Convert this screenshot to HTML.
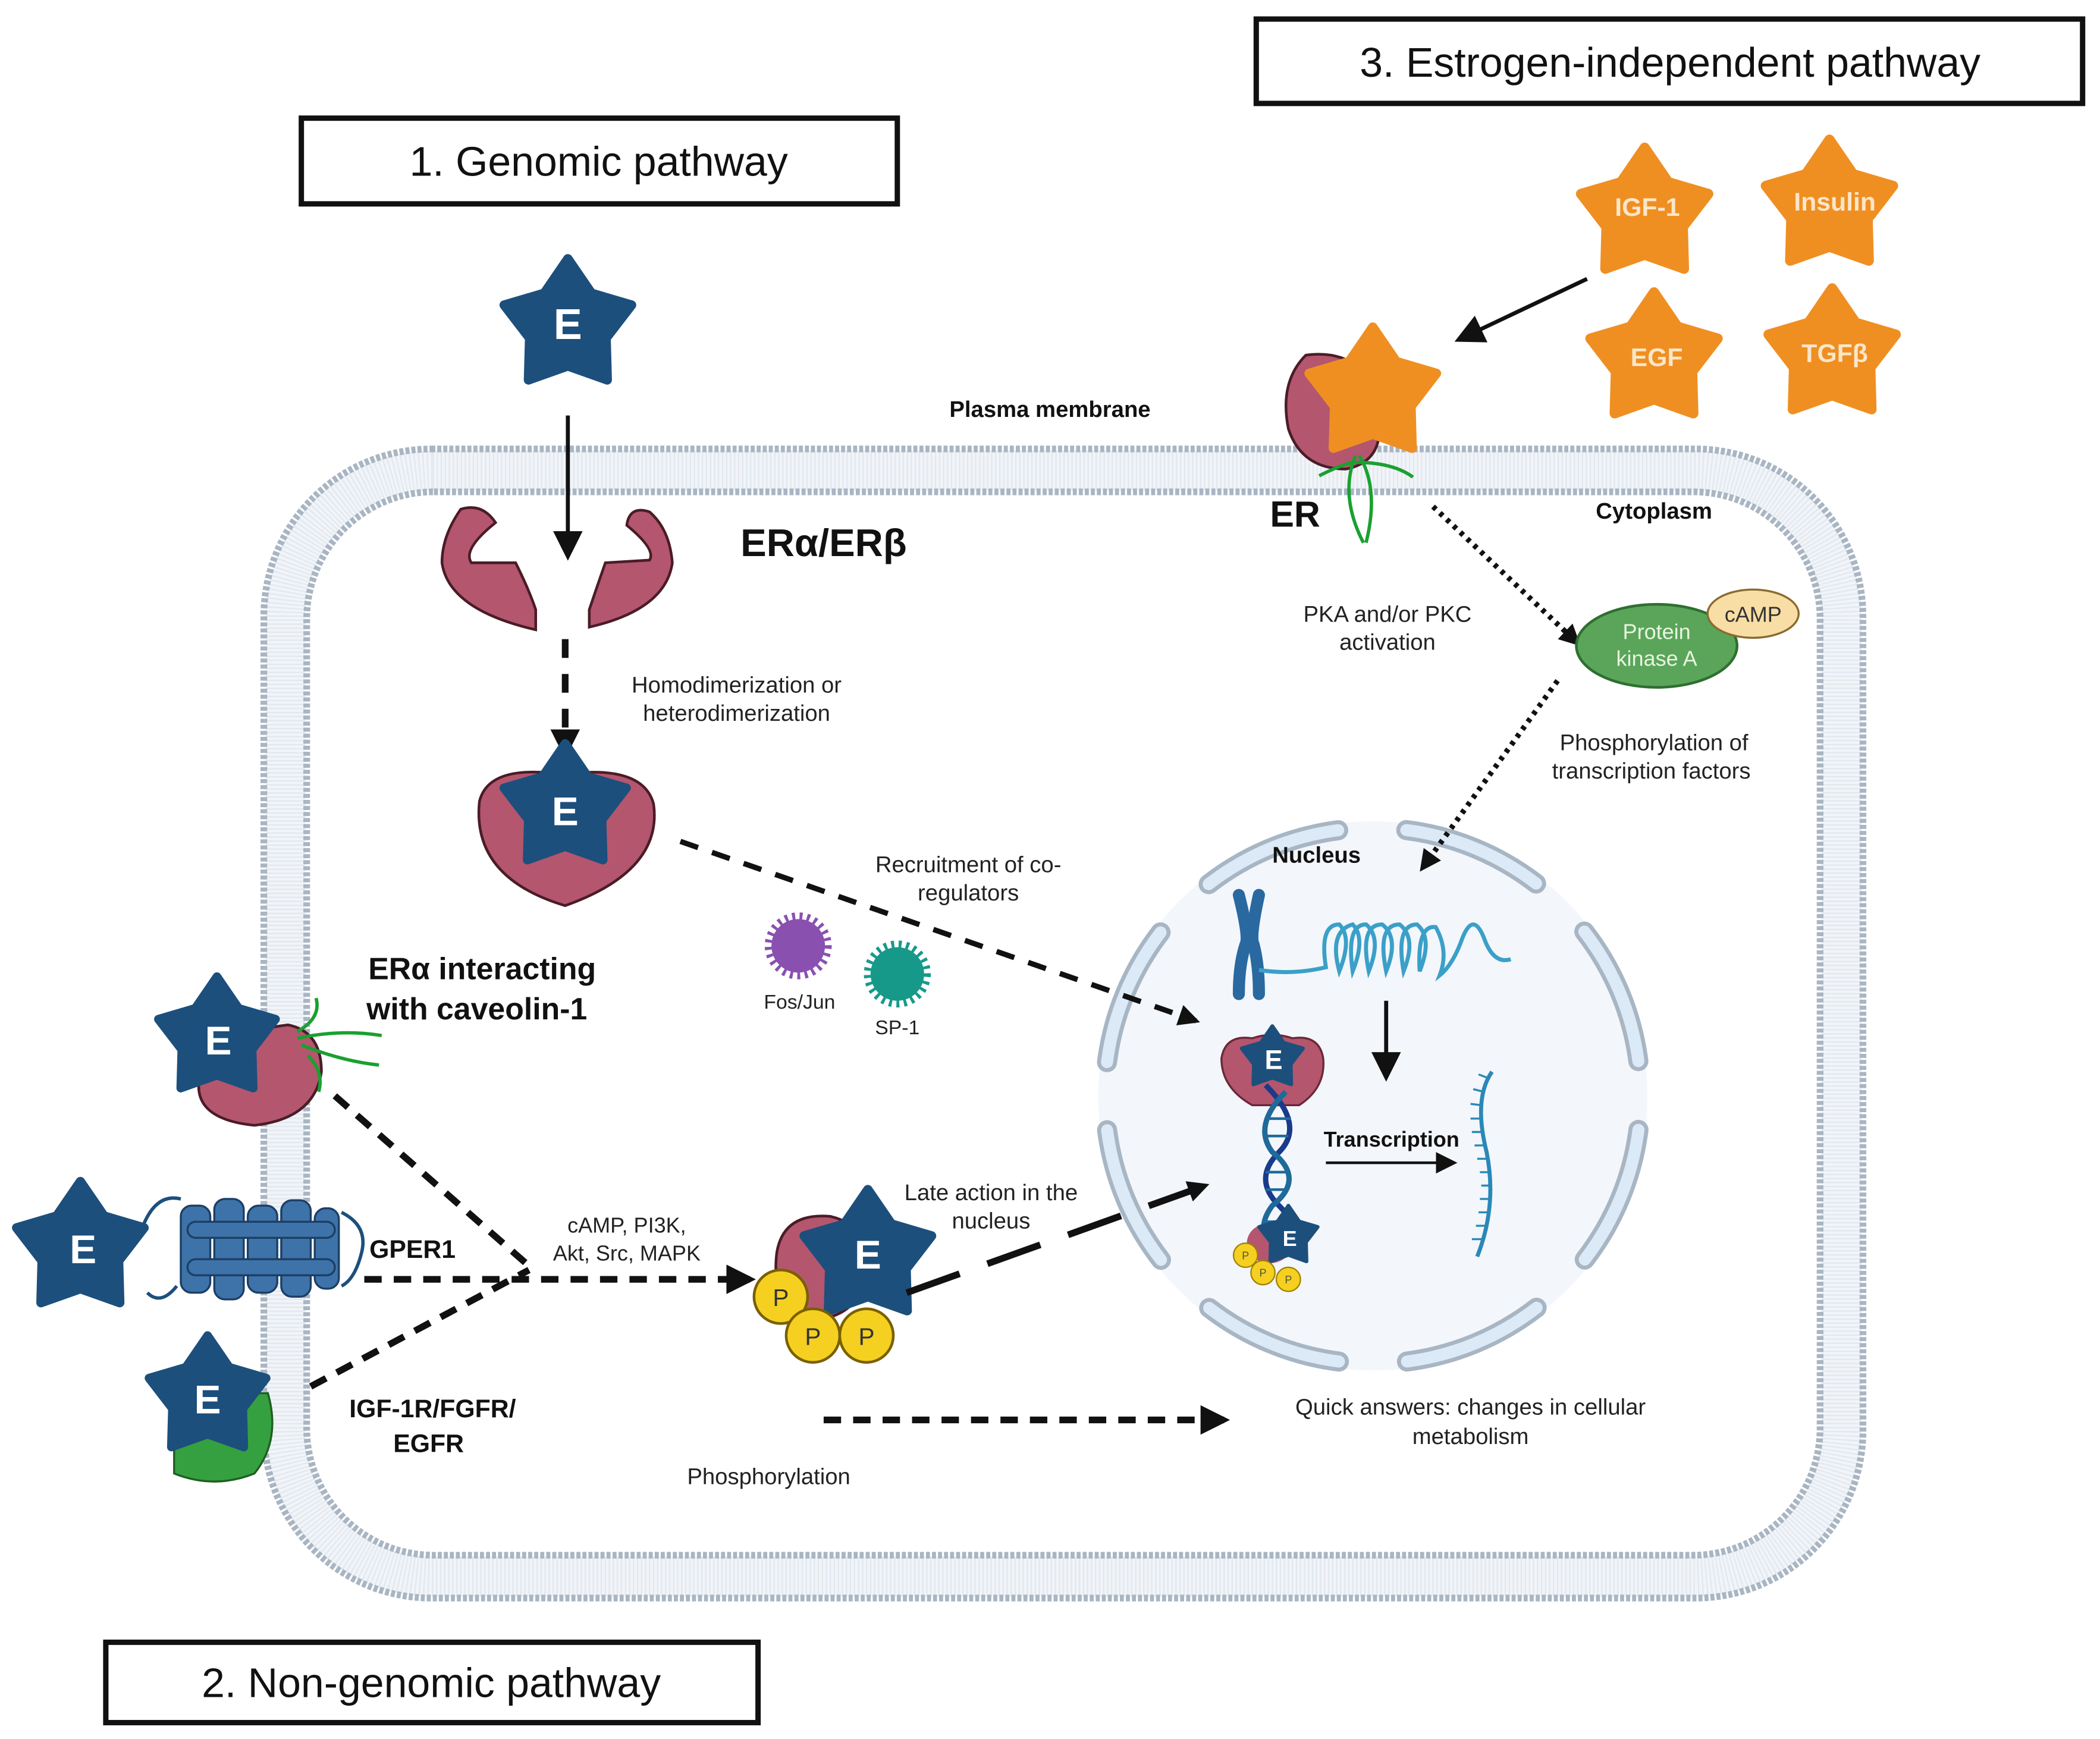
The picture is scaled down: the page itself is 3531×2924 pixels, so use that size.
<!DOCTYPE html>
<html><head><meta charset="utf-8"><style>
html,body{margin:0;padding:0;background:#fff}
svg{display:block}
text{font-family:"Liberation Sans",sans-serif}
</style></head><body>
<svg width="3531" height="2924" viewBox="0 0 1568 1298" xmlns="http://www.w3.org/2000/svg">
<defs>
<path id="star" d="M0,-1 L0.353,-0.485 L0.951,-0.309 L0.571,0.185 L0.588,0.809 L0,0.6 L-0.588,0.809 L-0.571,0.185 L-0.951,-0.309 L-0.353,-0.485 Z"/>
<marker id="ah" viewBox="0 0 10 10" refX="8" refY="5" markerUnits="userSpaceOnUse" markerWidth="18" markerHeight="16" orient="auto"><path d="M0,0 L10,5 L0,10 Z" fill="#111"/></marker>
<marker id="ah2" viewBox="0 0 10 10" refX="8" refY="5" markerUnits="userSpaceOnUse" markerWidth="24" markerHeight="22" orient="auto"><path d="M0,0 L10,5 L0,10 Z" fill="#111"/></marker>
</defs>
<rect width="1568" height="1298" fill="#fff"/>

<!-- membrane -->
<rect x="213" y="351" width="1162" height="826" rx="110" fill="none" stroke="#f1f4f8" stroke-width="30"/>
<rect x="213" y="351" width="1162" height="826" rx="110" fill="none" stroke="#e2e8ef" stroke-width="30" stroke-dasharray="1 2"/>
<rect x="197" y="335" width="1194" height="858" rx="125" fill="none" stroke="#a9b5c2" stroke-width="5" stroke-dasharray="3 1.5"/>
<rect x="229" y="367" width="1130" height="794" rx="95" fill="none" stroke="#a9b5c2" stroke-width="5" stroke-dasharray="3 1.5"/>

<!-- title boxes -->
<rect x="225" y="88" width="445" height="64" fill="#fff" stroke="#111" stroke-width="4"/>
<text x="447" y="131" font-size="31" text-anchor="middle" fill="#111">1. Genomic pathway</text>
<rect x="938" y="14" width="617" height="63" fill="#fff" stroke="#111" stroke-width="4"/>
<text x="1247" y="57" font-size="31" text-anchor="middle" fill="#111">3. Estrogen-independent pathway</text>
<rect x="79" y="1226" width="487" height="60" fill="#fff" stroke="#111" stroke-width="4"/>
<text x="322" y="1267" font-size="31" text-anchor="middle" fill="#111">2. Non-genomic pathway</text>

<!-- nucleus -->
<circle cx="1025" cy="818" r="205" fill="#f3f6fb"/>
<circle cx="1025" cy="818" r="200" fill="none" stroke="#a8b6c4" stroke-width="15" stroke-linecap="round" stroke-dasharray="106 51" stroke-dashoffset="131.5"/>
<circle cx="1025" cy="818" r="200" fill="none" stroke="#dce9f6" stroke-width="9" stroke-linecap="round" stroke-dasharray="106 51" stroke-dashoffset="131.5"/>
<text x="983" y="644" font-size="17" font-weight="bold" text-anchor="middle" fill="#111">Nucleus</text>

<!-- chromosome -->
<path d="M925,668 Q933,700 930,705 Q925,720 925,742 M940,668 Q933,700 936,705 Q940,720 940,742" stroke="#2a68a0" stroke-width="9" fill="none" stroke-linecap="round"/>
<path d="M940,724 Q965,728 990,722 Q985,690 1000,690 Q1010,700 1000,725 Q992,695 1010,690 Q1020,700 1010,725 Q1005,690 1020,690 Q1032,700 1022,725 Q1015,690 1032,690 Q1045,700 1035,725 Q1028,690 1045,690 Q1058,700 1048,725 Q1042,690 1058,690 Q1070,700 1060,725 Q1058,690 1072,692 Q1082,710 1075,728 Q1085,720 1092,700 Q1100,680 1108,700 Q1115,720 1128,716" stroke="#3aa0c8" stroke-width="3" fill="none"/>
<line x1="1035" y1="747" x2="1035" y2="803" stroke="#111" stroke-width="3" marker-end="url(#ah2)"/>

<!-- DNA complex -->
<path d="M912,790 Q915,772 935,775 Q950,770 965,775 Q985,772 988,790 Q990,812 970,825 L935,825 Q912,812 912,790Z" fill="#b4566e" stroke="#6a2838" stroke-width="1.5"/>
<use href="#star" transform="translate(950,790) scale(24)" fill="#1c4f7c" stroke="#1c4f7c" stroke-width="0.12" stroke-linejoin="round"/>
<text x="951" y="798" font-size="20" font-weight="bold" text-anchor="middle" fill="#fff">E</text>
<path d="M945,810 Q975,840 955,860 Q935,880 955,900 Q975,920 960,935" stroke="#1a3a8a" stroke-width="4" fill="none"/>
<path d="M960,815 Q935,840 950,860 Q975,880 950,900 Q935,920 955,935" stroke="#1e6a9a" stroke-width="4" fill="none"/>
<g stroke="#1e6a9a" stroke-width="2"><line x1="948" y1="835" x2="964" y2="835"/><line x1="944" y1="848" x2="962" y2="848"/><line x1="945" y1="875" x2="962" y2="875"/><line x1="945" y1="888" x2="962" y2="888"/><line x1="946" y1="912" x2="962" y2="912"/></g>
<ellipse cx="948" cy="928" rx="17" ry="15" fill="#b4566e"/>
<use href="#star" transform="translate(962,923) scale(23)" fill="#1c4f7c" stroke="#1c4f7c" stroke-width="0.12" stroke-linejoin="round"/>
<text x="963" y="930" font-size="16" font-weight="bold" text-anchor="middle" fill="#fff">E</text>
<g fill="#f5d020" stroke="#a08000" stroke-width="1"><circle cx="930" cy="937" r="9"/><circle cx="943" cy="950" r="9"/><circle cx="962" cy="955" r="9"/></g>
<g font-size="8" text-anchor="middle" fill="#553"><text x="930" y="940">P</text><text x="943" y="953">P</text><text x="962" y="958">P</text></g>

<text x="1039" y="856" font-size="16" font-weight="bold" text-anchor="middle" fill="#111">Transcription</text>
<line x1="990" y1="868" x2="1085" y2="868" stroke="#111" stroke-width="2" marker-end="url(#ah)"/>
<!-- mRNA -->
<path d="M1114,800 Q1100,820 1110,860 Q1118,900 1103,938" stroke="#2a88b8" stroke-width="3" fill="none"/>
<path d="M1112,805 l-8,-3 M1108,815 l-8,-2 M1106,825 l-8,-1 M1106,835 l-8,0 M1107,845 l-8,0 M1109,855 l-8,0 M1111,865 l-8,0 M1113,875 l-8,0 M1114,885 l-8,0 M1113,895 l-8,0 M1112,905 l-8,0 M1110,915 l-8,0 M1107,925 l-8,0" stroke="#2a88b8" stroke-width="1.5"/>

<!-- genomic pathway -->
<use href="#star" transform="translate(424,243) scale(50)" fill="#1c4f7c" stroke="#1c4f7c" stroke-width="0.14" stroke-linejoin="round"/>
<text x="424" y="253" font-size="32" font-weight="bold" text-anchor="middle" fill="#fff">E</text>
<line x1="424" y1="310" x2="424" y2="414" stroke="#111" stroke-width="3" marker-end="url(#ah2)"/>
<path d="M344,380 Q330,400 330,420 Q335,455 400,470 L400,455 Q395,440 385,420 L352,420 Q345,410 370,390 Q360,375 344,380Z" fill="#b4566e" stroke="#4a1c28" stroke-width="2"/>
<path d="M485,382 Q500,395 502,420 Q497,455 440,468 L440,455 Q445,440 452,420 L485,418 Q490,410 468,392 Q470,377 485,382Z" fill="#b4566e" stroke="#4a1c28" stroke-width="2"/>
<text x="615" y="415" font-size="29" font-weight="bold" text-anchor="middle" fill="#111">ERα/ERβ</text>
<line x1="422" y1="477" x2="422" y2="562" stroke="#111" stroke-width="5" stroke-dasharray="14 12" marker-end="url(#ah2)"/>
<text x="550" y="517" font-size="17" text-anchor="middle" fill="#222">Homodimerization or</text>
<text x="550" y="538" font-size="17" text-anchor="middle" fill="#222">heterodimerization</text>
<path d="M358,598 Q365,570 420,578 Q480,570 488,600 Q495,650 422,676 Q352,655 358,598Z" fill="#b4566e" stroke="#4a1c28" stroke-width="2"/>
<use href="#star" transform="translate(422,603) scale(48)" fill="#1c4f7c" stroke="#1c4f7c" stroke-width="0.14" stroke-linejoin="round"/>
<text x="422" y="616" font-size="30" font-weight="bold" text-anchor="middle" fill="#fff">E</text>

<line x1="508" y1="628" x2="893" y2="762" stroke="#111" stroke-width="4" stroke-dasharray="14 11" marker-end="url(#ah)"/>
<text x="723" y="651" font-size="17" text-anchor="middle" fill="#222">Recruitment of co-</text>
<text x="723" y="672" font-size="17" text-anchor="middle" fill="#222">regulators</text>
<circle cx="596" cy="706" r="20" fill="#8a50b0" stroke="#8a50b0" stroke-width="10" stroke-dasharray="2 3"/>
<circle cx="670" cy="727" r="20" fill="#17998a" stroke="#17998a" stroke-width="10" stroke-dasharray="2 3"/>
<text x="597" y="753" font-size="15" text-anchor="middle" fill="#222">Fos/Jun</text>
<text x="670" y="772" font-size="15" text-anchor="middle" fill="#222">SP-1</text>

<!-- estrogen independent -->
<g fill="#ef8f22" stroke="#ef8f22" stroke-width="0.15" stroke-linejoin="round">
<use href="#star" transform="translate(1228,160) scale(50)"/>
<use href="#star" transform="translate(1366,154) scale(50)"/>
<use href="#star" transform="translate(1235,268) scale(50)"/>
<use href="#star" transform="translate(1368,265) scale(50)"/>
</g>
<g font-size="19" font-weight="bold" text-anchor="middle" fill="#fde6c8">
<text x="1230" y="161">IGF-1</text><text x="1370" y="157">Insulin</text><text x="1237" y="273">EGF</text><text x="1370" y="270">TGFβ</text></g>
<line x1="1185" y1="208" x2="1090" y2="253" stroke="#111" stroke-width="3" marker-end="url(#ah2)"/>
<path d="M975,265 Q955,285 962,320 Q972,350 1005,350 Q1030,345 1030,320 L1030,290 Q1010,260 975,265Z" fill="#b4566e" stroke="#4a1c28" stroke-width="2"/>
<use href="#star" transform="translate(1025,294) scale(50)" fill="#ef8f22" stroke="#ef8f22" stroke-width="0.14" stroke-linejoin="round"/>
<path d="M1015,340 Q1030,365 1020,405 M1012,340 Q1000,370 1018,405 M985,355 Q1005,345 1012,345 M1012,345 Q1040,345 1055,356" stroke="#1aa030" stroke-width="2.5" fill="none"/>
<text x="967" y="393" font-size="27" font-weight="bold" text-anchor="middle" fill="#111">ER</text>
<text x="784" y="311" font-size="17" font-weight="bold" text-anchor="middle" fill="#111">Plasma membrane</text>
<text x="1235" y="387" font-size="17" font-weight="bold" text-anchor="middle" fill="#111">Cytoplasm</text>
<line x1="1070" y1="378" x2="1178" y2="480" stroke="#111" stroke-width="4" stroke-dasharray="3 4" marker-end="url(#ah)"/>
<text x="1036" y="464" font-size="17" text-anchor="middle" fill="#222">PKA and/or PKC</text>
<text x="1036" y="485" font-size="17" text-anchor="middle" fill="#222">activation</text>
<ellipse cx="1237" cy="482" rx="60" ry="31" fill="#5aa55a" stroke="#2f6f30" stroke-width="2"/>
<text x="1237" y="477" font-size="16" text-anchor="middle" fill="#e8f5e0">Protein</text>
<text x="1237" y="497" font-size="16" text-anchor="middle" fill="#e8f5e0">kinase A</text>
<ellipse cx="1309" cy="458" rx="34" ry="18" fill="#f8dea4" stroke="#8a6a30" stroke-width="1.5"/>
<text x="1309" y="464" font-size="16" text-anchor="middle" fill="#333">cAMP</text>
<line x1="1163" y1="508" x2="1062" y2="648" stroke="#111" stroke-width="4" stroke-dasharray="3 4" marker-end="url(#ah)"/>
<text x="1235" y="560" font-size="17" text-anchor="middle" fill="#222">Phosphorylation of</text>
<text x="1233" y="581" font-size="17" text-anchor="middle" fill="#222">transcription factors</text>

<!-- non-genomic -->
<text x="360" y="731" font-size="23" font-weight="bold" text-anchor="middle" fill="#111">ERα interacting</text>
<text x="356" y="761" font-size="23" font-weight="bold" text-anchor="middle" fill="#111">with caveolin-1</text>
<path d="M150,800 Q170,770 215,765 Q240,770 240,800 Q235,835 190,840 Q140,835 150,800Z" fill="#b4566e" stroke="#4a1c28" stroke-width="2"/>
<use href="#star" transform="translate(162,775) scale(46)" fill="#1c4f7c" stroke="#1c4f7c" stroke-width="0.14" stroke-linejoin="round"/>
<text x="163" y="787" font-size="30" font-weight="bold" text-anchor="middle" fill="#fff">E</text>
<path d="M222,770 Q240,760 236,745 M222,775 Q255,768 285,773 M225,780 Q255,792 283,795 M230,788 Q242,800 238,815" stroke="#1aa030" stroke-width="2.5" fill="none"/>

<use href="#star" transform="translate(60,932) scale(50)" fill="#1c4f7c" stroke="#1c4f7c" stroke-width="0.14" stroke-linejoin="round"/>
<text x="62" y="943" font-size="30" font-weight="bold" text-anchor="middle" fill="#fff">E</text>
<path d="M105,920 Q115,890 135,895 M255,905 Q275,915 270,935 Q265,955 255,960 M132,960 Q120,975 110,965" stroke="#1c4f7c" stroke-width="2.5" fill="none"/>
<g fill="#3d73a8" stroke="#1c3f66" stroke-width="1.5">
<rect x="135" y="900" width="22" height="65" rx="8"/><rect x="160" y="895" width="22" height="75" rx="8"/><rect x="185" y="900" width="22" height="65" rx="8"/><rect x="210" y="896" width="22" height="72" rx="8"/><rect x="235" y="902" width="18" height="60" rx="8"/>
<rect x="140" y="912" width="110" height="12" rx="6"/><rect x="140" y="940" width="110" height="12" rx="6"/></g>
<text x="308" y="939" font-size="19" font-weight="bold" text-anchor="middle" fill="#111">GPER1</text>

<path d="M130,1070 Q150,1040 200,1040 Q210,1075 190,1100 Q160,1112 130,1100 Z" fill="#35a040" stroke="#1d5f20" stroke-width="1.5"/>
<use href="#star" transform="translate(155,1043) scale(46)" fill="#1c4f7c" stroke="#1c4f7c" stroke-width="0.14" stroke-linejoin="round"/>
<text x="155" y="1055" font-size="30" font-weight="bold" text-anchor="middle" fill="#fff">E</text>
<text x="323" y="1058" font-size="19" font-weight="bold" text-anchor="middle" fill="#111">IGF-1R/FGFR/</text>
<text x="320" y="1084" font-size="19" font-weight="bold" text-anchor="middle" fill="#111">EGFR</text>

<line x1="250" y1="818" x2="395" y2="945" stroke="#111" stroke-width="5" stroke-dasharray="13 9"/>
<line x1="232" y1="1035" x2="395" y2="948" stroke="#111" stroke-width="5" stroke-dasharray="13 9"/>
<line x1="272" y1="955" x2="560" y2="955" stroke="#111" stroke-width="5" stroke-dasharray="13 9" marker-end="url(#ah2)"/>
<text x="468" y="920" font-size="16" text-anchor="middle" fill="#222">cAMP, PI3K,</text>
<text x="468" y="941" font-size="16" text-anchor="middle" fill="#222">Akt, Src, MAPK</text>

<path d="M580,935 Q585,905 620,908 Q650,915 648,950 Q640,985 605,985 Q575,975 580,935Z" fill="#b4566e" stroke="#4a1c28" stroke-width="2"/>
<use href="#star" transform="translate(648,938) scale(50)" fill="#1c4f7c" stroke="#1c4f7c" stroke-width="0.14" stroke-linejoin="round"/>
<text x="648" y="947" font-size="30" font-weight="bold" text-anchor="middle" fill="#fff">E</text>
<g fill="#f5d020" stroke="#7a6000" stroke-width="2"><circle cx="583" cy="968" r="20"/><circle cx="607" cy="997" r="20"/><circle cx="647" cy="997" r="20"/></g>
<g font-size="18" text-anchor="middle" fill="#333"><text x="583" y="975">P</text><text x="607" y="1004">P</text><text x="647" y="1004">P</text></g>
<line x1="677" y1="965" x2="900" y2="885" stroke="#111" stroke-width="5" stroke-dasharray="42 22" marker-end="url(#ah)"/>
<text x="740" y="896" font-size="17" text-anchor="middle" fill="#222">Late action in the</text>
<text x="740" y="917" font-size="17" text-anchor="middle" fill="#222">nucleus</text>

<line x1="615" y1="1060" x2="914" y2="1060" stroke="#111" stroke-width="5" stroke-dasharray="13 9" marker-end="url(#ah2)"/>
<text x="574" y="1108" font-size="17" text-anchor="middle" fill="#222">Phosphorylation</text>
<text x="1098" y="1056" font-size="17" text-anchor="middle" fill="#222">Quick answers: changes in cellular</text>
<text x="1098" y="1078" font-size="17" text-anchor="middle" fill="#222">metabolism</text>
</svg>
</body></html>
